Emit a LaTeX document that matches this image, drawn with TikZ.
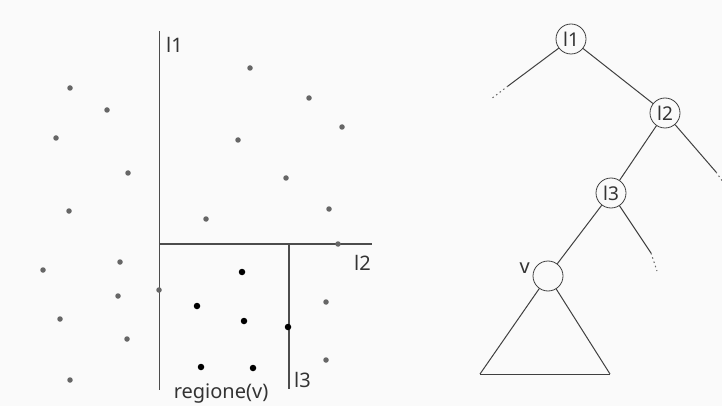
\documentclass[tikz,border=0pt]{standalone}
\usepackage{fontspec}
\setmainfont{Noto Sans}
\begin{document}
\begin{tikzpicture}[x=1pt,y=-1pt,
  lbl/.style={font=\fontsize{20}{22}\selectfont, text=black!80, inner sep=0pt},
  gdot/.style={circle, fill=black!60, inner sep=0pt, minimum size=5.5pt},
  bdot/.style={circle, fill=black, inner sep=0pt, minimum size=6.5pt},
  splitline/.style={draw=black!70, line width=1.6pt},
  tnode/.style={circle, draw=black!75, line width=0.8pt, minimum size=30pt, inner sep=0pt, font=\fontsize{19}{20}\selectfont, text=black!80},
  tedge/.style={draw=black!75, line width=1pt},
  tdots/.style={draw=black!60, line width=1pt, dash pattern=on 1.5pt off 3pt}]
\fill[black!2] (0,0) rectangle (722,406);
\useasboundingbox (0,0) rectangle (722,406);
% splitting lines
\coordinate (l1t) at (159.5,31);
\coordinate (l1b) at (159.5,390);
\coordinate (l2l) at (159.5,244);
\coordinate (l2r) at (372,244);
\coordinate (l3t) at (289,244);
\coordinate (l3b) at (289,389);
\draw[splitline] (l1t) -- (l1b);
\draw[splitline] (l2l) -- (l2r);
\draw[splitline] (l3t) -- (l3b);
\node[lbl, anchor=west] (lab1) at (166,45) {l1};
\node[lbl, anchor=west] (lab2) at (354,263) {l2};
\node[lbl, anchor=west] (lab3) at (294,380) {l3};
\node[lbl] (labr) at (221,394) {regione(v)};
% gray points
\foreach \px/\py [count=\i] in {70/88,107/110,56/138,128/173,69/211,120/262,43/270,118/296,159/290,60/319,127/339,70/380,250/68,309/98,342/127,238/140,286/178,329/209,206/219,338/244,326/302,326/360}
  \node[gdot] (g\i) at (\px,\py) {};
% black points
\foreach \px/\py [count=\i] in {242/272,197/306,244/321,288/327,201/367,253/368}
  \node[bdot] (b\i) at (\px,\py) {};
% tree
\node[tnode] (t1) at (571,39) {l1};
\node[tnode] (t2) at (665,113) {l2};
\node[tnode] (t3) at (611,193) {l3};
\node[tnode] (tv) at (548,276) {};
\node[lbl, anchor=east] (vl) at (530,268) {v};
\coordinate (a1) at (508,86);
\coordinate (a2) at (491,99);
\coordinate (c1) at (716,172);
\coordinate (c2) at (723,182);
\coordinate (d1) at (651,253);
\coordinate (d2) at (657,271);
\coordinate (tl) at (480,374);
\coordinate (tr) at (610,374);
\draw[tedge] (t1) -- (t2);
\draw[tedge] (t2) -- (t3);
\draw[tedge] (t3) -- (tv);
\draw[tedge] (t1) -- (a1);
\draw[tdots] (a1) -- (a2);
\draw[tedge] (t2) -- (c1);
\draw[tdots] (c1) -- (c2);
\draw[tedge] (t3) -- (d1);
\draw[tdots] (d1) -- (d2);
\draw[tedge] (tv) -- (tl);
\draw[tedge] (tv) -- (tr);
\draw[tedge] (tl) -- (tr);
\end{tikzpicture}
\end{document}
